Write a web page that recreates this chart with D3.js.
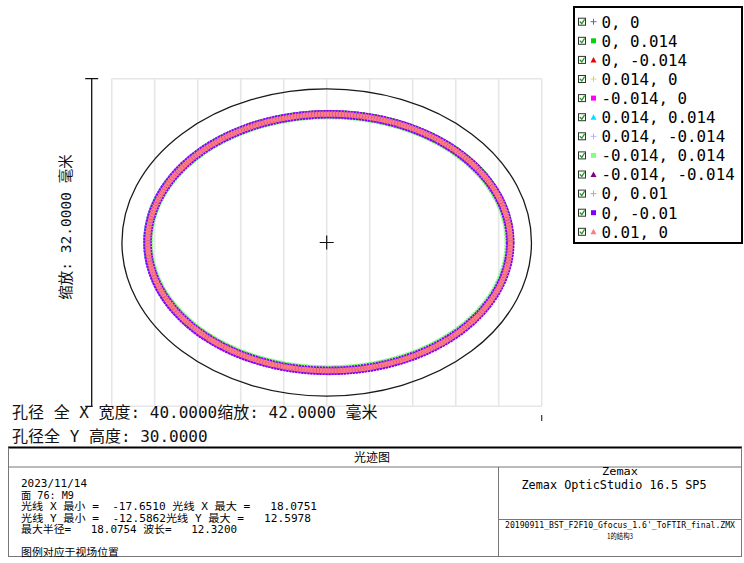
<!DOCTYPE html>
<html>
<head>
<meta charset="utf-8">
<script src="https://cdn.jsdelivr.net/npm/d3@7"></script>
<style>
  html, body { margin: 0; padding: 0; background: #ffffff; }
  svg { display: block; }
  text { white-space: pre; }
</style>
</head>
<body>
<svg id="chart" width="744" height="563"></svg>
<script>
// Field positions shown in the legend (degrees)
const fieldLabels = ["0, 0", "0, 0.014", "0, -0.014", "0.014, 0", "-0.014, 0",
  "0.014, 0.014", "0.014, -0.014", "-0.014, 0.014", "-0.014, -0.014",
  "0, 0.01", "0, -0.01", "0.01, 0"];
const fieldColors = ["#5a5aff", "#00d800", "#ee0000", "#d6d66a", "#ff00ff",
  "#00e4ff", "#b4b4ff", "#80ff80", "#800080", "#ff8a8a", "#8000ff", "#ff7c7c"];
const fieldMarkers = ["plus", "square", "triangle", "plus", "square", "triangle",
  "plus", "square", "triangle", "plus", "square", "triangle"];

// Footprint of each field on the surface: centre and semi-axes (mm)
const ringCx = [0.22, 0.22, 0.22, 0.25, 0.19, 0.10, 0.25, 0.20, 0.19, 0.22, 0.22, 0.23];
const ringCy = [0.00, 0.03, -0.03, 0.00, 0.00, 0.04, -0.03, 0.02, -0.03, 0.02, -0.01, 0.00];
const ringRx = [17.70, 17.68, 17.70, 17.70, 17.70, 17.72, 17.70, 17.58, 17.70, 17.70, 17.71, 17.71];
const ringRy = [12.52, 12.50, 12.52, 12.52, 12.52, 12.52, 12.52, 12.42, 12.52, 12.52, 12.53, 12.53];

// Aperture and plot scale (mm)
const apertureWidth = 40.0;
const apertureHeight = 30.0;
const plotScaleX = 42.0;
const plotScaleY = 32.0;
const gridTicks = [-21, -16.8, -12.6, -8.4, -4.2, 0, 4.2, 8.4, 12.6, 16.8, 21];

// Annotation text
const apertureLines = ["孔径 全 X 宽度: 40.0000缩放: 42.0000 毫米", "孔径全 Y 高度: 30.0000"];
const yScaleLabel = "缩放: 32.0000 毫米";
const plotTitle = "光迹图";
const infoLines = ["2023/11/14", "面 76: M9",
  "光线 X 最小 =  -17.6510 光线 X 最大 =   18.0751",
  "光线 Y 最小 =  -12.5862光线 Y 最大 =   12.5978",
  "最大半径=   18.0754 波长=   12.3200", "图例对应于视场位置"];
const infoRows = [0, 1, 2, 3, 4, 6];
const infoWidths = [66, 53, 296, 290, 216, 98];
const brandLines = ["Zemax", "Zemax OpticStudio 16.5 SP5"];
const fileLines = ["20190911_BST_F2F10_Gfocus_1.6'_ToFTIR_final.ZMX", "1的结构3"];

const svg = d3.select("#chart");
const mono = "'DejaVu Sans Mono', 'Noto Sans CJK SC', monospace";
const cjk = "'Noto Sans CJK SC', 'DejaVu Sans', sans-serif";

// Plot area
const plotLeft = 111.7, plotRight = 541.7, plotMidY = 242.5;
const pxPerMm = (plotRight - plotLeft) / plotScaleX;
const x = d3.scaleLinear().domain([-plotScaleX / 2, plotScaleX / 2]).range([plotLeft, plotRight]);
const y = d3.scaleLinear().domain([-plotScaleY / 2, plotScaleY / 2])
  .range([plotMidY + pxPerMm * plotScaleY / 2, plotMidY - pxPerMm * plotScaleY / 2]);
const plotTop = y(plotScaleY / 2), plotBottom = y(-plotScaleY / 2);

// Grid: vertical lines plus top and bottom edges
const grid = svg.append("g").attr("stroke", "#e6e6e6").attr("stroke-width", 1.6);
grid.selectAll("line.v").data(gridTicks).join("line")
  .attr("class", "v")
  .attr("x1", d => x(d)).attr("x2", d => x(d))
  .attr("y1", plotTop).attr("y2", plotBottom);
grid.selectAll("line.h").data([plotScaleY / 2, -plotScaleY / 2]).join("line")
  .attr("class", "h")
  .attr("x1", x(gridTicks[0])).attr("x2", x(gridTicks[gridTicks.length - 1]))
  .attr("y1", d => y(d)).attr("y2", d => y(d));

// Aperture outline
svg.append("ellipse")
  .attr("cx", x(0)).attr("cy", y(0))
  .attr("rx", x(apertureWidth / 2) - x(0))
  .attr("ry", y(0) - y(apertureHeight / 2))
  .attr("fill", "none").attr("stroke", "#1a1a1a").attr("stroke-width", 1.3);

// Ray footprints, one ring per field; later fields sit on top
const markerWidth = { plus: 6.5, square: 8.5, triangle: 6 };
const markerDash = { plus: "2 0.6", square: "2.2 0.8", triangle: "2.6 0.4" };
const rings = svg.append("g");
fieldLabels.forEach((lab, i) => {
  let w = markerWidth[fieldMarkers[i]];
  if (i === fieldLabels.length - 1) w = 5;
  rings.append("ellipse")
    .attr("cx", x(ringCx[i])).attr("cy", y(ringCy[i]))
    .attr("rx", x(ringRx[i]) - x(0))
    .attr("ry", y(0) - y(ringRy[i]))
    .attr("fill", "none")
    .attr("stroke", fieldColors[i])
    .attr("stroke-width", w)
    .attr("stroke-dasharray", markerDash[fieldMarkers[i]]);
});

// Chief ray cross at centre
const cx0 = x(0), cy0 = y(0);
svg.append("path")
  .attr("d", `M${cx0 - 7},${cy0}H${cx0 + 7}M${cx0},${cy0 - 7}V${cy0 + 7}`)
  .attr("stroke", "#111").attr("stroke-width", 1.2).attr("fill", "none");

// Vertical scale bar
const barX = 91.7;
svg.append("path")
  .attr("d", `M${barX - 6.5},${plotTop}H${barX + 6.5}M${barX},${plotTop}V${plotBottom}M${barX - 6.5},${plotBottom}H${barX + 1}`)
  .attr("stroke", "#111").attr("stroke-width", 1.3).attr("fill", "none");
svg.append("line")
  .attr("x1", plotRight).attr("x2", plotRight).attr("y1", 415).attr("y2", 421)
  .attr("stroke", "#333").attr("stroke-width", 1.2);

svg.append("text")
  .attr("transform", `translate(71,227) rotate(-90)`)
  .attr("text-anchor", "middle")
  .attr("font-family", mono).attr("font-size", 14.5).attr("fill", "#111")
  .text(yScaleLabel);

svg.selectAll("text.ap").data(apertureLines).join("text")
  .attr("class", "ap")
  .attr("x", 12).attr("y", (d, i) => 418 + i * 24)
  .attr("font-family", mono).attr("font-size", 16).attr("fill", "#111")
  .text(d => d);

// Legend
const lg = svg.append("g");
lg.append("rect").attr("x", 574).attr("y", 7).attr("width", 168).attr("height", 236)
  .attr("fill", "#fff").attr("stroke", "#000").attr("stroke-width", 2);
const rowY = i => 21.7 + i * 19.1;
const rows = lg.selectAll("g.row").data(fieldLabels).join("g")
  .attr("class", "row")
  .attr("transform", (d, i) => `translate(0,${rowY(i)})`);
rows.append("rect").attr("x", 578.5).attr("y", -3.5).attr("width", 7).attr("height", 7)
  .attr("fill", "#fff").attr("stroke", "#333").attr("stroke-width", 1);
rows.append("path").attr("d", "M579.8,-0.2L581.8,2L584.6,-2.4")
  .attr("fill", "none").attr("stroke", "#1f9a1f").attr("stroke-width", 1.3);
rows.each(function (d, i) {
  const g = d3.select(this);
  const m = fieldMarkers[i], c = fieldColors[i];
  if (m === "plus") {
    g.append("path").attr("d", "M590.5,0H596.5M593.5,-3V3")
      .attr("stroke", c).attr("stroke-width", 1).attr("fill", "none");
  } else if (m === "square") {
    g.append("rect").attr("x", 591).attr("y", -2.5).attr("width", 5).attr("height", 5).attr("fill", c);
  } else {
    g.append("path").attr("d", "M593.5,-3L596.5,2.5L590.5,2.5Z").attr("fill", c);
  }
});
rows.append("text").attr("x", 601.5).attr("y", 5.8)
  .attr("font-family", mono).attr("font-size", 15.8).attr("fill", "#000")
  .text(d => d);

// Title block
const tb = svg.append("g");
tb.append("line").attr("x1", 8).attr("x2", 742).attr("y1", 447.5).attr("y2", 447.5)
  .attr("stroke", "#000").attr("stroke-width", 2);
tb.append("path")
  .attr("d", "M8.5,447.5V557M741.5,447.5V557M8.5,556.5H741.5M8.5,467H741.5M498.5,467V557M498.5,519.5H741.5")
  .attr("stroke", "#777").attr("stroke-width", 1).attr("fill", "none");
tb.append("text").attr("x", 372).attr("y", 462).attr("text-anchor", "middle")
  .attr("font-family", cjk).attr("font-size", 12).attr("fill", "#000").text(plotTitle);
tb.selectAll("text.info").data(infoLines).join("text")
  .attr("class", "info")
  .attr("x", 21).attr("y", (d, i) => 487 + infoRows[i] * 11.5)
  .attr("font-family", mono).attr("font-size", 10.5).attr("fill", "#000")
  .attr("textLength", (d, i) => infoWidths[i])
  .attr("lengthAdjust", "spacingAndGlyphs")
  .text(d => d);
tb.append("text").attr("x", 620).attr("y", 475).attr("text-anchor", "middle")
  .attr("font-family", mono).attr("font-size", 10.5).attr("fill", "#000")
  .attr("textLength", 36).attr("lengthAdjust", "spacingAndGlyphs").text(brandLines[0]);
tb.append("text").attr("x", 614).attr("y", 488.5).attr("text-anchor", "middle")
  .attr("font-family", mono).attr("font-size", 11.5).attr("fill", "#000")
  .attr("textLength", 185).attr("lengthAdjust", "spacingAndGlyphs").text(brandLines[1]);
tb.append("text").attr("x", 620).attr("y", 527.5).attr("text-anchor", "middle")
  .attr("font-family", mono).attr("font-size", 8.2).attr("fill", "#000")
  .attr("textLength", 230).attr("lengthAdjust", "spacingAndGlyphs").text(fileLines[0]);
tb.append("text").attr("x", 620).attr("y", 538.5).attr("text-anchor", "middle")
  .attr("font-family", cjk).attr("font-size", 8).attr("fill", "#000")
  .attr("textLength", 26).attr("lengthAdjust", "spacingAndGlyphs").text(fileLines[1]);
</script>
</body>
</html>
